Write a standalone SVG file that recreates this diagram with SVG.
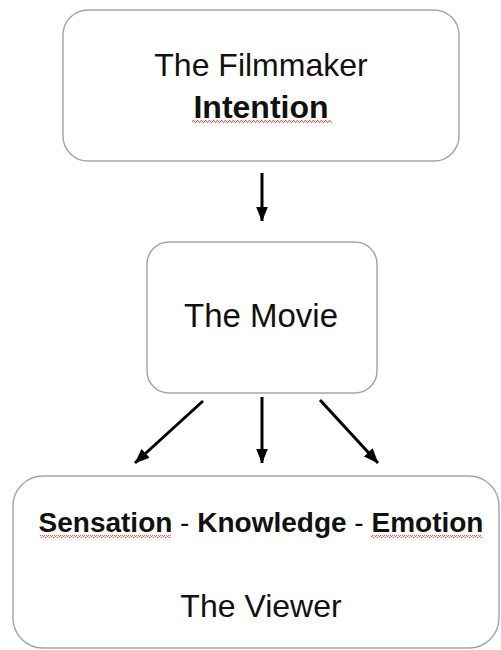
<svg xmlns="http://www.w3.org/2000/svg" width="501" height="650" viewBox="0 0 501 650">
<defs>
<style>
.box{fill:#fff;stroke:#a6a6a6;stroke-width:1.5}
.t{font-family:"Liberation Sans",Arial,sans-serif;fill:#111;text-anchor:middle}
.b{font-weight:bold}
.c{stroke:#000;stroke-width:3;fill:none}
</style>
<marker id="ah" markerWidth="5" markerHeight="4" refX="4.8" refY="2" orient="auto" markerUnits="strokeWidth">
<path d="M0,0 L5,2 L0,4 Z" fill="#000"/>
</marker>
<pattern id="wave" width="4" height="3" patternUnits="userSpaceOnUse">
<path d="M0,2.5 L1,0.5 L2,0.5 L3,2.5 L4,2.5" stroke="#e8443a" stroke-width="0.9" fill="none"/>
</pattern>
</defs>
<rect width="501" height="650" fill="#fff"/>
<g id="filmmaker">
<rect class="box" x="63" y="10" width="396" height="151" rx="25"/>
<text class="t" x="261" y="76" font-size="32">The Filmmaker</text>
<text class="t b" x="261" y="118" font-size="32">Intention</text>
<rect x="192" y="120" width="140" height="3" fill="url(#wave)"/>
</g>
<g id="movie">
<rect class="box" x="147" y="242" width="230" height="151" rx="22"/>
<text class="t" x="261" y="327" font-size="33">The Movie</text>
</g>
<g id="viewer">
<rect class="box" x="13" y="476" width="486" height="172" rx="30"/>
<text class="t" x="261" y="532" font-size="28"><tspan class="b">Sensation</tspan> - <tspan class="b">Knowledge</tspan> - <tspan class="b">Emotion</tspan></text>
<rect x="40" y="535" width="131" height="3" fill="url(#wave)"/>
<rect x="371" y="535" width="111" height="3" fill="url(#wave)"/>
<text class="t" x="261" y="617" font-size="32">The Viewer</text>
</g>
<g id="connectors">
<line class="c" x1="262" y1="173" x2="262" y2="221" marker-end="url(#ah)"/>
<line class="c" x1="262" y1="397" x2="262" y2="463" marker-end="url(#ah)"/>
<line class="c" x1="203" y1="401" x2="135" y2="463" marker-end="url(#ah)"/>
<line class="c" x1="320" y1="400" x2="378" y2="463" marker-end="url(#ah)"/>
</g>
</svg>
